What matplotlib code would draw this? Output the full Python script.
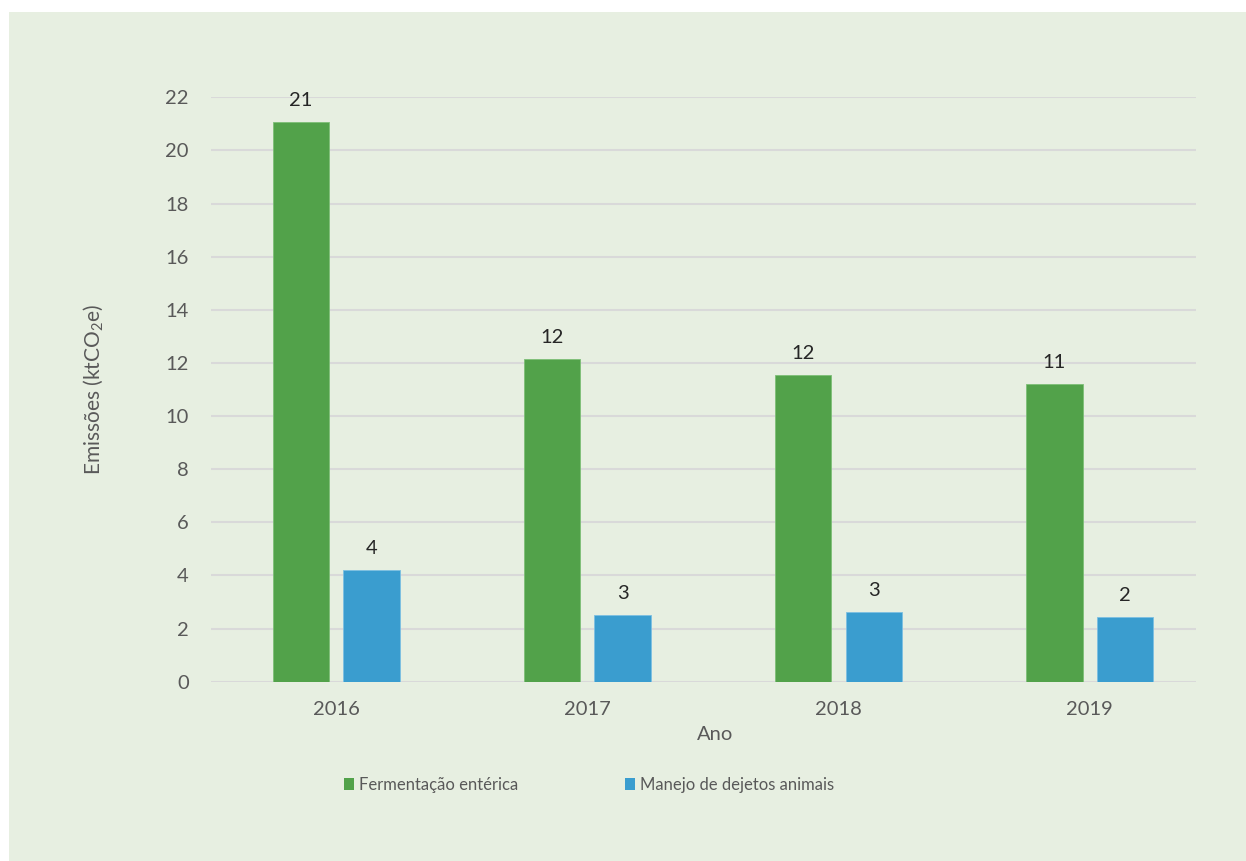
import matplotlib
matplotlib.use("Agg")
import matplotlib.pyplot as plt
from matplotlib.patches import Rectangle
import numpy as np

# Emissões por ano e fonte (ktCO2e)
anos = ["2016", "2017", "2018", "2019"]
fermentacao = [21.08, 12.16, 11.55, 11.20]
dejetos = [4.22, 2.52, 2.61, 2.45]
serie_nomes = ["Fermentação entérica", "Manejo de dejetos animais"]
y_ticks = [0, 2, 4, 6, 8, 10, 12, 14, 16, 18, 20, 22]

plt.rcParams["font.family"] = ["Lato", "DejaVu Sans"]
plt.rcParams["mathtext.fontset"] = "custom"
plt.rcParams["mathtext.rm"] = "Lato"
plt.rcParams["mathtext.it"] = "Lato"

W, H = 1246, 861
fig = plt.figure(figsize=(W / 100, H / 100), dpi=100, facecolor="white")

BG = "#E7EFE1"
VERDE = "#52A24A"
AZUL = "#3A9DCF"
CINZA = "#595959"
FS = 14.5

# painel de fundo
fig.patches.append(Rectangle((9 / W, 0), 1, (H - 12) / H, transform=fig.transFigure,
                             facecolor=BG, edgecolor="none", zorder=-10))

left, right = 211 / W, 1196 / W
bottom, top = 1 - 681.7 / H, 1 - 97.3 / H
ax = fig.add_axes([left, bottom, right - left, top - bottom])
ax.set_facecolor("none")

x = np.arange(len(anos))
bw = 0.224
off = 0.1405
b1 = ax.bar(x - off, fermentacao, bw, color=VERDE, edgecolor="#7DBF76", linewidth=0.6,
            label=serie_nomes[0], zorder=3)
b2 = ax.bar(x + off, dejetos, bw, color=AZUL, edgecolor="#7CC0E2", linewidth=0.6,
            label=serie_nomes[1], zorder=3)

for bars, vals in ((b1, fermentacao), (b2, dejetos)):
    for r, v in zip(bars, vals):
        ax.annotate(f"{v:.0f}", (r.get_x() + r.get_width() / 2, v),
                    xytext=(0, 11.5), textcoords="offset points",
                    ha="center", va="baseline", fontsize=FS, color="#262626")

ax.set_xlim(-0.498, 3.423)
ax.set_ylim(0, 22)
ax.set_yticks(y_ticks)
ax.set_xticks(x)
ax.set_xticklabels(anos)
ax.grid(axis="y", color="#D9D9D9", linewidth=1.5, zorder=0)
for s in ax.spines.values():
    s.set_visible(False)
ax.tick_params(axis="both", length=0, labelsize=FS, labelcolor=CINZA)
ax.tick_params(axis="y", pad=16)
ax.tick_params(axis="x", pad=14)

ax.set_xlabel("Ano", fontsize=FS, color=CINZA)
ax.xaxis.set_label_coords(0.512, -0.0912)
ax.xaxis.label.set_va("center")
ax.set_ylabel("Emissões (ktCO$_2$e)", fontsize=15, color=CINZA)
ax.yaxis.set_label_coords(-0.1198, 0.5)
ax.yaxis.label.set_va("center")

leg = fig.legend(handles=[b1, b2], labels=serie_nomes, loc="center",
                 bbox_to_anchor=(589 / W, 1 - 785 / H), ncol=2, frameon=False,
                 fontsize=12, handlelength=0.6, handleheight=0.78, handletextpad=0.3,
                 columnspacing=6.36, labelcolor=CINZA)
for h in leg.legend_handles:
    h.set_edgecolor("none")

fig.savefig("out.png", dpi=100, facecolor="white")
